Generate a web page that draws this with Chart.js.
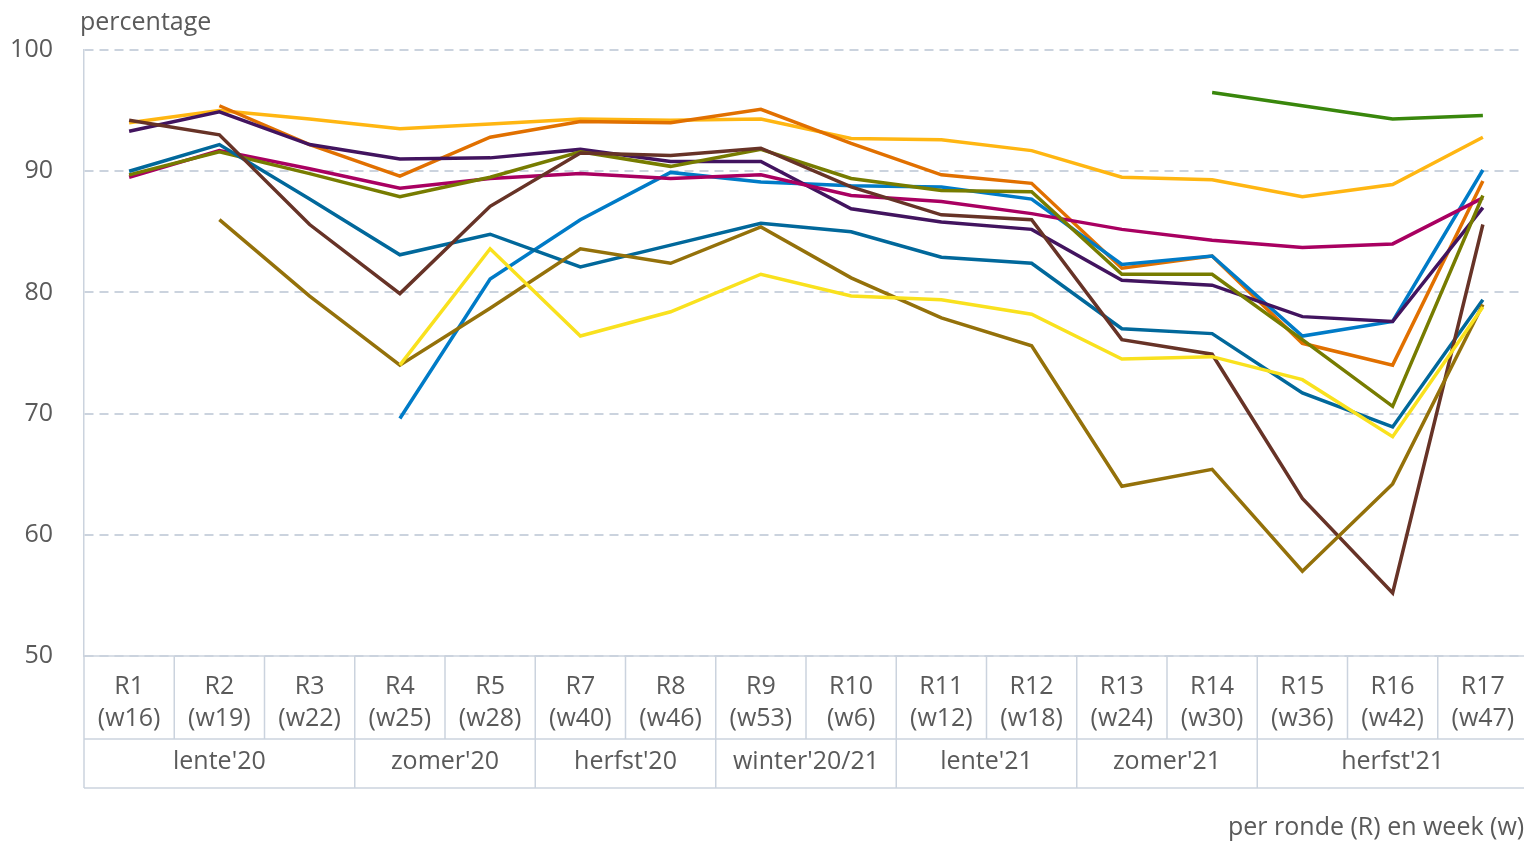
<!DOCTYPE html>
<html>
<head>
<script src="https://cdn.jsdelivr.net/npm/chart.js@4/dist/chart.umd.min.js"></script>
<style>
  html, body { margin: 0; padding: 0; background: #fff; overflow: hidden; }
</style>
</head>
<body>
<canvas id="canvas" width="1530" height="846"></canvas>
<script>
const rounds = ['R1', 'R2', 'R3', 'R4', 'R5', 'R7', 'R8', 'R9', 'R10', 'R11', 'R12', 'R13', 'R14', 'R15', 'R16', 'R17'];
const weeks = ['(w16)', '(w19)', '(w22)', '(w25)', '(w28)', '(w40)', '(w46)', '(w53)', '(w6)', '(w12)', '(w18)', '(w24)', '(w30)', '(w36)', '(w42)', '(w47)'];
const seasons = ["lente'20", "zomer'20", "herfst'20", "winter'20/21", "lente'21", "zomer'21", "herfst'21"];
const seasonRounds = [3, 2, 2, 2, 2, 2, 3];

const geel = [null, null, null, 74.0, 83.6, 76.4, 78.4, 81.5, 79.7, 79.4, 78.2, 74.5, 74.7, 72.8, 68.1, 78.8];
const bruin = [null, 86.0, 79.7, 74.0, 78.7, 83.6, 82.4, 85.4, 81.2, 77.9, 75.6, 64.0, 65.4, 57.0, 64.2, 79.0];
const donkerbruin = [94.2, 93.0, 85.6, 79.9, 87.1, 91.5, 91.3, 91.9, 88.7, 86.4, 86.0, 76.1, 74.9, 63.0, 55.2, 85.6];
const lintblauw = [90.0, 92.2, 87.7, 83.1, 84.8, 82.1, 83.9, 85.7, 85.0, 82.9, 82.4, 77.0, 76.6, 71.7, 68.9, 79.4];
const mosgroen = [89.7, 91.6, 89.8, 87.9, 89.5, 91.6, 90.4, 91.8, 89.4, 88.4, 88.3, 81.5, 81.5, 76.1, 70.6, 88.0];
const violet = [89.5, 91.7, 90.2, 88.6, 89.4, 89.8, 89.4, 89.7, 88.0, 87.5, 86.5, 85.2, 84.3, 83.7, 84.0, 87.8];
const paars = [93.3, 94.9, 92.2, 91.0, 91.1, 91.8, 90.8, 90.8, 86.9, 85.8, 85.2, 81.0, 80.6, 78.0, 77.6, 87.0];
const hemelblauw = [null, null, null, 69.6, 81.1, 86.0, 89.9, 89.1, 88.8, 88.7, 87.7, 82.3, 83.0, 76.4, 77.6, 90.1];
const oranje = [null, 95.4, 92.2, 89.6, 92.8, 94.1, 94.0, 95.1, 92.3, 89.7, 89.0, 82.0, 83.0, 75.8, 74.0, 89.2];
const donkergeel = [94.0, 95.0, 94.3, 93.5, 93.9, 94.3, 94.2, 94.3, 92.7, 92.6, 91.7, 89.5, 89.3, 87.9, 88.9, 92.8];
const groen = [null, null, null, null, null, null, null, null, null, null, null, null, 96.5, 95.4, 94.3, 94.6];

const font = "'Open Sans', 'Noto Sans', sans-serif";
const textColor = '#5a5a5a';
const lineColor = '#cbd3de';

function line(data, color) {
  return { data, borderColor: color, backgroundColor: color, borderWidth: 3.5, pointRadius: 0, tension: 0, spanGaps: false };
}

// table below the plot: round cells, season cells, axis titles
const tablePlugin = {
  id: 'table',
  afterDraw(chart) {
    const { ctx, chartArea, scales: { x } } = chart;
    const w = x.width / rounds.length;
    const top = chartArea.bottom, mid = top + 83, bot = top + 132;
    ctx.save();
    ctx.strokeStyle = lineColor;
    ctx.lineWidth = 1.5;
    ctx.beginPath();
    [top, mid, bot].forEach((y) => { ctx.moveTo(x.left, y); ctx.lineTo(x.right, y); });
    ctx.moveTo(x.left, top); ctx.lineTo(x.left, bot);
    for (let i = 1; i < rounds.length; i++) {
      ctx.moveTo(x.left + i * w, top); ctx.lineTo(x.left + i * w, mid);
    }
    let start = 0;
    const centers = [];
    seasonRounds.forEach((n) => {
      const x0 = x.left + start * w, x1 = x.left + (start + n) * w;
      ctx.moveTo(x1, mid); ctx.lineTo(x1, bot);
      centers.push((x0 + x1) / 2);
      start += n;
    });
    ctx.stroke();

    ctx.fillStyle = textColor;
    ctx.font = '25px ' + font;
    ctx.textAlign = 'center';
    ctx.textBaseline = 'middle';
    seasons.forEach((s, k) => ctx.fillText(s, centers[k], (mid + bot) / 2 - 2));

    ctx.textAlign = 'left';
    ctx.fillText('percentage', 80, 23);
    ctx.fillText('per ronde (R) en week (w)', 1228, 828);
    ctx.restore();
  }
};

new Chart(document.getElementById('canvas').getContext('2d'), {
  type: 'line',
  data: {
    labels: rounds.map((r, i) => [r, weeks[i]]),
    datasets: [
      line(geel, '#f9e11e'),
      line(bruin, '#94710a'),
      line(donkerbruin, '#673327'),
      line(lintblauw, '#01689b'),
      line(mosgroen, '#777c00'),
      line(violet, '#a90061'),
      line(paars, '#42145f'),
      line(hemelblauw, '#007bc7'),
      line(oranje, '#e17000'),
      line(donkergeel, '#ffb612'),
      line(groen, '#39870c'),
    ],
  },
  options: {
    responsive: false,
    animation: false,
    layout: { padding: { top: 50, right: 2, bottom: 58, left: 0 } },
    plugins: { legend: { display: false }, tooltip: { enabled: false } },
    scales: {
      x: {
        offset: true,
        grid: { display: false, drawTicks: false },
        border: { display: false },
        ticks: { font: { family: font, size: 25, lineHeight: 1.28 }, color: textColor, padding: 15, maxRotation: 0, autoSkip: false },
        afterFit(s) { s.height = 132; },
      },
      y: {
        min: 50,
        max: 100,
        ticks: { stepSize: 10, font: { family: font, size: 25 }, color: textColor, padding: 31 },
        grid: { color: lineColor, lineWidth: 2, drawTicks: false },
        border: { display: true, color: lineColor, width: 1.5, dash: [9, 6] },
        afterFit(s) { s.width = 84; },
      },
    },
  },
  plugins: [tablePlugin],
});
</script>
</body>
</html>
